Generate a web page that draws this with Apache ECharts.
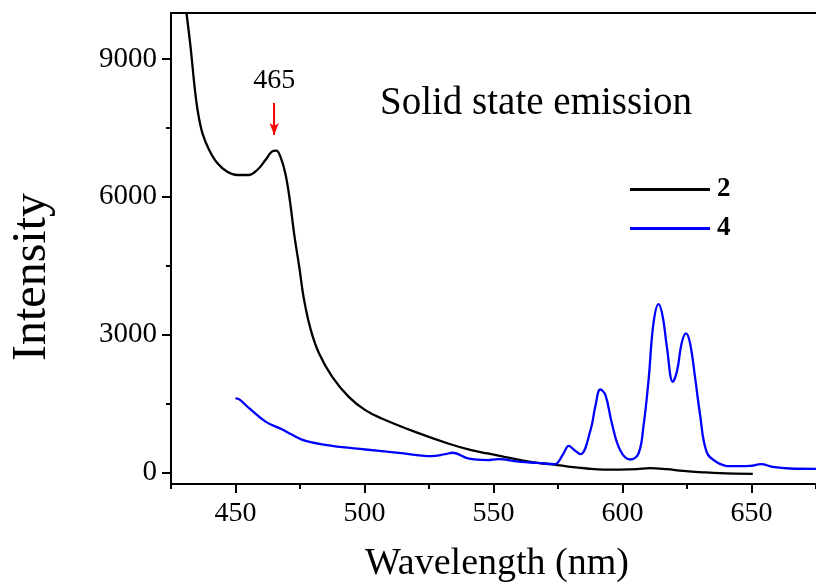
<!DOCTYPE html>
<html><head><meta charset="utf-8">
<script src="https://cdn.jsdelivr.net/npm/echarts@6/dist/echarts.min.js"></script>
<style>html,body{margin:0;padding:0;background:#fff}#c{width:816px;height:585px}</style>
</head><body><div id="c"></div>
<script>
// Series "2" (black)
const wl2 = [431.0,432.7,434.0,435.3,437.2,439.8,443.0,446.8,450.7,455.1,458.4,461.6,464.1,465.8,467.4,469.3,471.0,472.7,474.7,476.6,479.2,482.4,487.5,493.9,500.3,506.7,519.6,532.4,541.4,547.8,554.2,560.6,567.0,573.4,579.8,586.2,592.6,599.0,605.5,610.6,617.1,623.5,630.0,637.6,650.5];
const int2 = [10000,9200,8470,7890,7380,7020,6730,6546,6474,6474,6583,6800,6982,7003,6873,6511,5950,5205,4477,3752,3099,2591,2082,1646,1357,1176,884,632,486,414,340,268,209,174,122,87,65,65,72,94,72,35,10,-15,-30];
// Series "4" (blue)
const wl4 = [450.0,451.5,455.4,461.8,468.2,472.0,477.2,487.5,500.3,513.2,526.0,531.2,534.3,540.1,547.8,551.7,560.6,567.0,573.4,574.8,577.0,579.2,581.5,583.7,587.6,589.5,591.4,593.4,595.9,599.1,603.0,606.2,608.1,610.1,612.0,614.0,615.6,617.2,619.5,621.2,622.9,624.6,626.2,628.1,630.0,632.6,636.4,641.6,649.3,653.7,658.2,664.7,675.0];
const int4 = [1620,1590,1394,1102,936,820,688,579,501,427,355,399,430,305,268,290,231,210,181,209,400,579,480,398,921,1450,1807,1683,1067,486,283,414,993,2010,3245,3665,3389,2735,1973,2228,2809,3027,2809,2082,1285,449,231,137,144,181,122,87,80];
const seriesNames = ['2','4'];
const xMajor = [450,500,550,600,650];
const xMinor = [425,475,525,575,625,675];
const yMajor = [0,3000,6000,9000];
const yMinor = [1500,4500,7500];
const peakWl = 465;

const FONT = 'Liberation Serif';
const pair = (xs, ys) => xs.map((x,i)=>[x, ys[i]]);

const chart = echarts.init(document.getElementById('c'), null, {renderer:'canvas'});
const gridPos = {left:171, top:13, width:650, height:471};
const xBase = {type:'value', min:425, max:675, splitLine:{show:false}};
const yBase = {type:'value', min:-250, max:10000, splitLine:{show:false}};
const plain = v => String(v);
chart.setOption({
  animation:false,
  grid:[gridPos],
  xAxis:[
    Object.assign({}, xBase, {position:'bottom',
      axisLine:{onZero:false, lineStyle:{color:'#000', width:2}},
      axisTick:{show:true, inside:false, length:9, lineStyle:{color:'#000', width:2}, customValues:xMajor},
      axisLabel:{color:'#000', fontFamily:FONT, fontSize:28, margin:16, formatter:plain, customValues:xMajor}
    }),
    Object.assign({}, xBase, {position:'bottom',
      axisLine:{show:false, onZero:false},
      axisTick:{show:true, length:5, lineStyle:{color:'#000', width:2}, customValues:xMinor},
      axisLabel:{show:false}
    }),
    Object.assign({}, xBase, {position:'top',
      axisLine:{onZero:false, lineStyle:{color:'#000', width:2}},
      axisTick:{show:false}, axisLabel:{show:false}
    })
  ],
  yAxis:[
    Object.assign({}, yBase, {position:'left',
      axisLine:{show:true, onZero:false, lineStyle:{color:'#000', width:2}},
      axisTick:{show:true, length:9, lineStyle:{color:'#000', width:2}, customValues:yMajor},
      axisLabel:{color:'#000', fontFamily:FONT, fontSize:29, margin:14, formatter:plain, customValues:yMajor}
    }),
    Object.assign({}, yBase, {position:'left',
      axisLine:{show:false, onZero:false},
      axisTick:{show:true, length:5, lineStyle:{color:'#000', width:2}, customValues:yMinor},
      axisLabel:{show:false}
    })
  ],
  legend:{
    orient:'vertical', left:625, top:171, itemWidth:80, itemHeight:3, itemGap:12,
    icon:'rect',
    data:seriesNames,
    textStyle:{fontFamily:FONT, fontSize:27, fontWeight:'bold', color:'#000', padding:[0,0,0,2]}
  },
  series:[
    {name:seriesNames[0], type:'line', data:pair(wl2,int2), xAxisIndex:0, yAxisIndex:0,
     symbol:'none', smooth:0.4, lineStyle:{color:'#000', width:2.3}, itemStyle:{color:'#000'},
     markLine:{silent:true, symbol:['none','arrow'], symbolSize:[7,12],
       lineStyle:{color:'#ff0000', width:2, type:'solid'},
       label:{show:true, position:'start', formatter:String(peakWl), color:'#000', fontFamily:FONT, fontSize:28, distance:8},
       data:[[{coord:[peakWl, 8040]},{coord:[peakWl, 7345]}]]}
    },
    {name:seriesNames[1], type:'line', data:pair(wl4,int4), xAxisIndex:0, yAxisIndex:0,
     symbol:'none', smooth:0.4, lineStyle:{color:'#0000ff', width:2.3}, itemStyle:{color:'#0000ff'}}
  ],
  graphic:[
    {type:'text', x:32, y:277, rotation:Math.PI/2, style:{text:'Intensity', fontFamily:FONT, fontSize:48, fill:'#000', textAlign:'center', textVerticalAlign:'middle'}},
    {type:'text', x:497, y:564, style:{text:'Wavelength (nm)', fontFamily:FONT, fontSize:38, fill:'#000', textAlign:'center', textVerticalAlign:'middle'}},
    {type:'text', x:380, y:104, style:{text:'Solid state emission', fontFamily:FONT, fontSize:39, fill:'#000', textAlign:'left', textVerticalAlign:'middle'}}
  ]
});
</script></body></html>
